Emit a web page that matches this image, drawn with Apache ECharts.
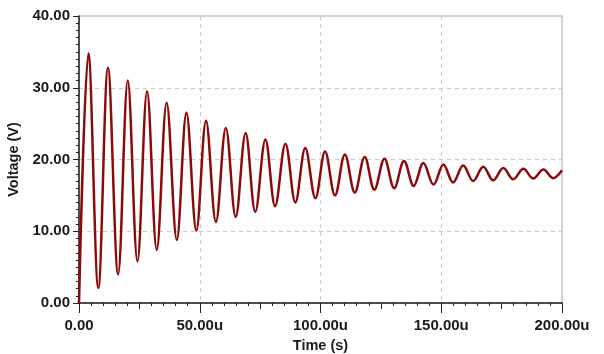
<!DOCTYPE html>
<html>
<head>
<meta charset="utf-8">
<script src="https://cdn.jsdelivr.net/npm/echarts@6/dist/echarts.min.js"></script>
<style>
html,body{margin:0;padding:0;background:#fff;}
#chart{width:604px;height:354px;}
</style>
</head>
<body>
<div id="chart"></div>
<script>
// Time in microseconds (extrema)
const timeUs = [0, 3.9, 8.0, 12.0, 16.2, 20.2, 24.2, 28.2, 32.2, 36.3, 40.5, 44.5, 48.6, 52.6, 56.7, 60.8,
  64.9, 69.0, 73.0, 77.2, 81.2, 85.5, 89.6, 93.7, 97.9, 101.9, 106.0, 110.1, 114.2, 118.3, 122.3,
  126.5, 130.5, 134.6, 138.6, 142.6, 146.8, 150.9, 154.9, 159.1, 163.2, 167.4, 171.5, 175.7, 179.8,
  184.0, 188.1, 192.3, 196.3, 200];
// Voltage (V)
const voltage = [0, 34.8, 2.1, 32.8, 4.0, 31.0, 5.8, 29.5, 7.4, 27.9, 8.8, 26.5, 10.1, 25.4, 11.3, 24.4,
  12.0, 23.7, 12.7, 22.8, 13.5, 22.2, 14.0, 21.6, 14.6, 21.1, 15.0, 20.7, 15.4, 20.35, 15.8,
  20.1, 16.0, 19.8, 16.3, 19.5, 16.5, 19.3, 16.8, 19.15, 17.0, 19.0, 17.1, 18.8, 17.25,
  18.7, 17.35, 18.6, 17.4, 18.5];
const xTickValues = [0, 50, 100, 150, 200];
const xTickLabels = ['0.00', '50.00u', '100.00u', '150.00u', '200.00u'];
const yTickValues = [0, 10, 20, 30, 40];
const yTickLabels = ['0.00', '10.00', '20.00', '30.00', '40.00'];

const seriesData = timeUs.map((t, i) => [t, voltage[i]]);
const fontFam = '"Liberation Sans", Arial, Helvetica, sans-serif';
const labelFmt = (vals, labels) => (v) => { const i = vals.indexOf(v); return i >= 0 ? labels[i] : ''; };

const chart = echarts.init(document.getElementById('chart'), null, {renderer: 'canvas'});
chart.setOption({
  animation: false,
  backgroundColor: '#ffffff',
  grid: {left: 79, right: 42, top: 16, bottom: 51, containLabel: false, outerBoundsMode: 'none',
    show: true, borderColor: '#c4c4c4', borderWidth: 1.5, backgroundColor: 'transparent'},
  xAxis: [{
    type: 'value', min: 0, max: 200, interval: 50, position: 'bottom',
    name: 'Time (s)', nameLocation: 'middle', nameGap: 35,
    nameTextStyle: {fontFamily: fontFam, fontSize: 14.5, fontWeight: 'bold', color: '#1a1a1a'},
    axisLine: {show: true, lineStyle: {color: '#222', width: 1.5}},
    axisTick: {show: true, length: 10, lineStyle: {color: '#222', width: 1}},
    minorTick: {show: true, splitNumber: 10, length: 3, lineStyle: {color: '#222', width: 1}},
    axisLabel: {margin: 15, fontFamily: fontFam, fontSize: 15, fontWeight: 'bold', color: '#1a1a1a', formatter: labelFmt(xTickValues, xTickLabels)},
    splitLine: {show: true, showMinLine: false, showMaxLine: false, lineStyle: {color: '#c8c8c8', type: [4, 4], width: 1}}
  }, {
    type: 'value', min: 0, max: 200, interval: 25, position: 'bottom', offset: 0,
    axisLine: {show: false}, axisLabel: {show: false}, splitLine: {show: false},
    axisTick: {show: true, length: 6, lineStyle: {color: '#222', width: 1}}
  }],
  yAxis: [{
    type: 'value', min: 0, max: 40, interval: 10,
    name: 'Voltage (V)', nameLocation: 'middle', nameGap: 49, nameRotate: 90,
    nameTextStyle: {fontFamily: fontFam, fontSize: 14.5, fontWeight: 'bold', color: '#1a1a1a'},
    axisLine: {show: true, lineStyle: {color: '#222', width: 1.5}},
    axisTick: {show: true, length: 6, lineStyle: {color: '#222', width: 1}},
    minorTick: {show: true, splitNumber: 10, length: 3, lineStyle: {color: '#222', width: 1}},
    axisLabel: {margin: 9, fontFamily: fontFam, fontSize: 15, fontWeight: 'bold', color: '#1a1a1a', formatter: labelFmt(yTickValues, yTickLabels)},
    splitLine: {show: true, showMinLine: false, showMaxLine: false, lineStyle: {color: '#c8c8c8', type: [4, 4], width: 1}}
  }],
  series: [{
    type: 'line', xAxisIndex: 0, yAxisIndex: 0,
    data: seriesData, smooth: 0.36, showSymbol: false, symbol: 'none',
    lineStyle: {color: '#8b0a0a', width: 2.5}
  }]
});
</script>
</body>
</html>
